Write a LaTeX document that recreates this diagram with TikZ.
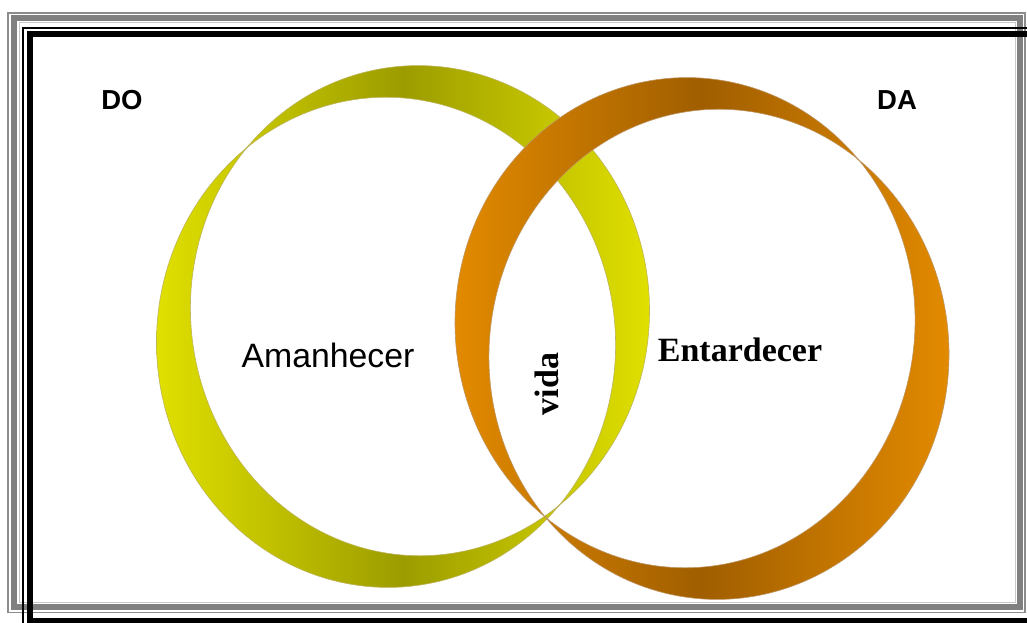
\documentclass[tikz,border=0pt]{standalone}
\usepackage{fontspec}
\setmainfont{Liberation Serif}
\setsansfont{Liberation Sans}
\definecolor{yB}{RGB}{224,224,0}
\definecolor{yD}{RGB}{156,156,0}
\definecolor{yE}{RGB}{190,180,90}
\definecolor{oB}{RGB}{226,138,0}
\definecolor{oD}{RGB}{160,94,0}
\definecolor{oE}{RGB}{190,150,100}
\definecolor{frameG}{RGB}{128,128,128}
\definecolor{frameL}{RGB}{140,140,140}
\definecolor{frameLL}{RGB}{200,200,200}
\tikzset{
  ringY/.style={left color=yB, right color=yB, middle color=yD, even odd rule, draw=yE, line width=0.6pt},
  ringO/.style={left color=oB, right color=oB, middle color=oD, even odd rule, draw=oE, line width=0.6pt},
  lab/.style={inner sep=0pt, text=black},
}
\begin{document}
\begin{tikzpicture}[x=1pt,y=-1pt]
\useasboundingbox (0,0) rectangle (1027,623);
\clip (0,0) rectangle (1027,623);
\fill[white] (0,0) rectangle (1027,623);
% grey frame
\draw[frameL, line width=1.3pt] (8,13) rectangle (1025,612.5);
\draw[frameG, line width=6pt] (13.7,18) rectangle (1020,607);
\draw[frameLL, line width=1pt] (19.5,22.5) rectangle (1015,602);
% black frame
\draw[black, line width=2pt] (23,28) rectangle (1040,640);
\draw[black, line width=6pt] (29.5,34) rectangle (1040,621);
% yellow ring
\path[ringY]
  plot[domain=0:360,samples=241,variable=\t] ({403+(229+23.3*abs(sin(\t-133)))*cos(\t)},{326.5-(244.5+23.3*abs(sin(\t-133)))*sin(\t)}) -- cycle
  plot[domain=0:360,samples=241,variable=\t] ({403+(229-23.3*abs(sin(\t-133)))*cos(\t)},{326.5-(244.5-23.3*abs(sin(\t-133)))*sin(\t)}) -- cycle;
% orange ring
\path[ringO]
  plot[domain=0:360,samples=241,variable=\t] ({702+(229.5+23.3*abs(sin(\t-47)))*cos(\t)},{338.5-(244.5+23.3*abs(sin(\t-47)))*sin(\t)}) -- cycle
  plot[domain=0:360,samples=241,variable=\t] ({702+(229.5-23.3*abs(sin(\t-47)))*cos(\t)},{338.5-(244.5-23.3*abs(sin(\t-47)))*sin(\t)}) -- cycle;
% labels
\node[lab, font=\sffamily\bfseries\fontsize{27.5}{27.5}\selectfont] (do) at (122,100) {DO};
\node[lab, font=\sffamily\bfseries\fontsize{27.5}{27.5}\selectfont] (da) at (897,100) {DA};
\node[lab, font=\sffamily\fontsize{33.8}{33.8}\selectfont] (am) at (328,355) {Amanhecer};
\node[lab, font=\rmfamily\bfseries\fontsize{34}{34}\selectfont] (en) at (740,350) {Entardecer};
\node[lab, font=\rmfamily\bfseries\fontsize{34}{34}\selectfont, rotate=90] (vida) at (547,384) {vida};
\end{tikzpicture}
\end{document}
